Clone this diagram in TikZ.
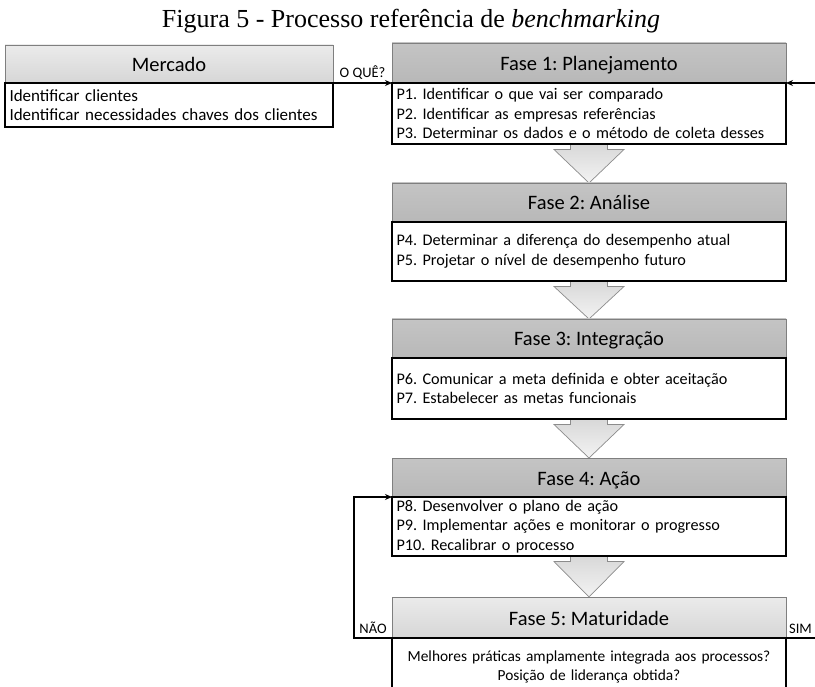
\documentclass[tikz,border=0pt]{standalone}
\usepackage{fontspec}
\setmainfont{Carlito}
\newfontfamily\captionfont{Liberation Serif}
\usetikzlibrary{calc,arrows.meta}
\pgfdeclarelayer{background}
\pgfsetlayers{background,main}
\frenchspacing

\definecolor{headtop}{HTML}{C4C4C4}
\definecolor{headbot}{HTML}{B8B8B8}
\definecolor{lighttop}{HTML}{EBEBEB}
\definecolor{lightbot}{HTML}{D6D6D6}
\definecolor{headline}{HTML}{7F7F7F}
\definecolor{arrowtop}{HTML}{D8D8D8}
\definecolor{arrowbot}{HTML}{F3F3F3}
\definecolor{arrowline}{HTML}{8C8C8C}

% block arrow joining the body of one phase to the header of the next
\newcommand\phasestep[2]{%
  \begin{pgfonlayer}{background}
    \path[stepshape]
      ($(#1.south)+(-18.5,0)$) -- ($(#1.south)+(-18.5,5.5)$)
      -- ($(#1.south)+(-35,5.5)$) -- (#2.north)
      -- ($(#1.south)+(35,5.5)$) -- ($(#1.south)+(18.5,5.5)$)
      -- ($(#1.south)+(18.5,0)$);
  \end{pgfonlayer}}

\begin{document}
\begin{tikzpicture}[x=1pt,y=-1pt,
  every node/.style={inner sep=0pt,outer sep=0pt},
  headbox/.style={draw=headline,line width=0.8pt,top color=headtop,bottom color=headbot,
    anchor=north west,font=\fontsize{20.5}{24}\selectfont,text height=15pt,text depth=0pt},
  lighthead/.style={headbox,top color=lighttop,bottom color=lightbot},
  bodybox/.style={draw=black,line width=1.1pt,fill=white,anchor=north west,
    inner xsep=4.5pt,align=left,font=\fontsize{16.2}{19.5}\selectfont},
  stepshape/.style={draw=arrowline,line width=0.7pt,top color=arrowtop,bottom color=arrowbot},
  conn/.style={draw=black,line width=1.1pt},
  tip/.style={-{Stealth[length=7pt,width=6pt]}},
  lbl/.style={font=\fontsize{14.5}{16}\selectfont}]

\begin{pgfonlayer}{background}
  \fill[white] (0,0) rectangle (815,687);
\end{pgfonlayer}
\clip (0,0) rectangle (815,687);

\node[font=\captionfont\fontsize{26}{30}\selectfont] (title) at (411,21)
  {Figura 5 - Processo referência de \textit{benchmarking}};

% market
\node[lighthead,minimum width=328pt,minimum height=38pt] (mh) at (5,45) {Mercado};
\node[bodybox,minimum height=44pt,text width=319pt,font=\fontsize{17}{19}\selectfont] (mb) at (mh.south west)
  {Identificar clientes\\Identificar necessidades chaves dos clientes};

% phases
\node[headbox,minimum width=394pt,minimum height=40pt] (f1h) at (392,43) {Fase 1: Planejamento};
\node[bodybox,minimum height=61pt,text width=385pt] (f1b) at (f1h.south west)
  {P1. Identificar o que vai ser comparado\\P2. Identificar as empresas referências\\P3. Determinar os dados e o método de coleta desses};

\node[headbox,minimum width=394pt,minimum height=39pt] (f2h) at (392,183) {Fase 2: Análise};
\node[bodybox,minimum height=59pt,text width=385pt] (f2b) at (f2h.south west)
  {P4. Determinar a diferença do desempenho atual\\P5. Projetar o nível de desempenho futuro};

\node[headbox,minimum width=394pt,minimum height=39pt] (f3h) at (392,319) {Fase 3: Integração};
\node[bodybox,minimum height=61pt,text width=385pt] (f3b) at (f3h.south west)
  {P6. Comunicar a meta definida e obter aceitação\\P7. Estabelecer as metas funcionais};

\node[headbox,minimum width=394pt,minimum height=39pt] (f4h) at (392,458) {Fase 4: Ação};
\node[bodybox,minimum height=59pt,text width=385pt] (f4b) at (f4h.south west)
  {P8. Desenvolver o plano de ação\\P9. Implementar ações e monitorar o progresso\\P10. Recalibrar o processo};

\node[lighthead,minimum width=394pt,minimum height=41pt] (f5h) at (392,597) {Fase 5: Maturidade};
\node[bodybox,minimum height=57pt,text width=391pt,inner xsep=1.5pt,align=center,
  font=\fontsize{15.4}{19}\selectfont] (f5b) at (f5h.south west)
  {Melhores práticas amplamente integrada aos processos?\\Posição de liderança obtida?};

% block arrows between phases
\phasestep{f1b}{f2h}
\phasestep{f2b}{f3h}
\phasestep{f3b}{f4h}
\phasestep{f4b}{f5h}

% connectors
\coordinate (loopin) at (815,83);
\coordinate (loopout) at (815,638);
\draw[conn,tip] (mh.south east) -- node[midway,above=4pt,lbl] {O QUÊ?} (f1h.south west);
\draw[conn,tip] (loopin) -- (f1h.south east);
\draw[conn] (f5h.south east) -- node[midway,above=4pt,lbl] {SIM} (loopout);
\draw[conn,tip] (f5h.south west) -- node[midway,above=4pt,lbl] {NÃO} ++(-38,0) |- (f4h.south west);
\end{tikzpicture}
\end{document}
